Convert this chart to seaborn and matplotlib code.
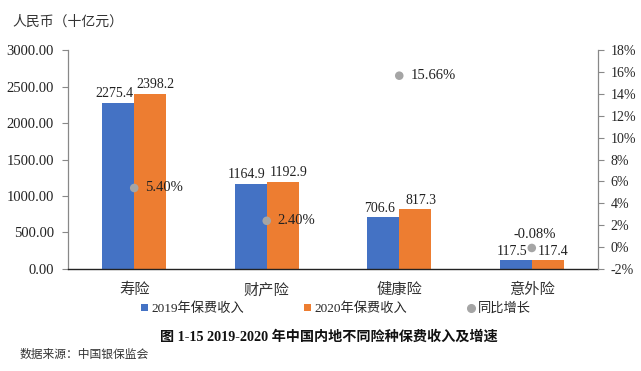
import matplotlib
matplotlib.use("Agg")
import matplotlib.pyplot as plt
import seaborn as sns
import pandas as pd
from matplotlib.lines import Line2D
from matplotlib.patches import Patch

categories = ["寿险", "财产险", "健康险", "意外险"]
premium_2019 = [2275.4, 1164.9, 706.6, 117.5]
premium_2020 = [2398.2, 1192.9, 817.3, 117.4]
growth = [5.40, 2.40, 15.66, -0.08]
series_names = ["2019年保费收入", "2020年保费收入", "同比增长"]

sns.set_theme(style="white")
plt.rcParams["font.family"] = ["Liberation Serif", "Noto Sans CJK SC"]

df = pd.DataFrame({
    "险种": categories * 2,
    "保费": premium_2019 + premium_2020,
    "年份": [series_names[0]] * 4 + [series_names[1]] * 4,
})

blue, orange, grey = "#4472C4", "#ED7D31", "#A5A5A5"

fig = plt.figure(figsize=(6.41, 3.71), dpi=100)
ax = fig.add_axes([0.106, 0.275, 0.827, 0.59])
sns.barplot(data=df, x="险种", y="保费", hue="年份", palette=[blue, orange],
            width=0.48, saturation=1, linewidth=0, ax=ax, legend=False)

ax.set_ylim(0, 3000)
ax.set_xlim(-0.5, 3.5)
ax.set_yticks([0, 500, 1000, 1500, 2000, 2500, 3000])
ax.set_yticklabels([f"{v:.2f}" for v in ax.get_yticks()], fontsize=10.5)
ax.set_xlabel("")
ax.set_ylabel("")
ax.tick_params(axis="x", length=0, pad=10, labelsize=11)
ax.tick_params(axis="y", length=4, width=0.8, color="#888888", direction="out", left=True, pad=6)
for lbl in ax.get_xticklabels():
    lbl.set_color("#333333")
for lbl in ax.get_yticklabels():
    lbl.set_color("#222222")

for side in ["top", "right"]:
    ax.spines[side].set_visible(False)
ax.spines["left"].set_color("#888888")
ax.spines["left"].set_linewidth(0.9)
ax.spines["bottom"].set_color("#222222")
ax.spines["bottom"].set_linewidth(1.0)

# value labels above bars, nudged apart a little like the original
for container, dx in zip(ax.containers, [-3, 4]):
    for bar in container:
        h = bar.get_height()
        ax.annotate(f"{h:.1f}", (bar.get_x() + bar.get_width() / 2, h),
                    xytext=(dx, 2), textcoords="offset points",
                    ha="center", va="bottom", fontsize=10, color="#222222")

ax2 = ax.twinx()
sns.scatterplot(x=range(len(categories)), y=growth, color=grey, s=38,
                edgecolor="none", ax=ax2, zorder=5)
ax2.set_ylim(-2, 18)
ax2.set_yticks(range(-2, 19, 2))
ax2.set_yticklabels([f"{v}%" for v in range(-2, 19, 2)], fontsize=10)
ax2.tick_params(axis="y", length=4, width=0.8, color="#888888", direction="out", right=True, pad=5)
for side in ["top", "left", "bottom"]:
    ax2.spines[side].set_visible(False)
ax2.spines["right"].set_color("#888888")
ax2.spines["right"].set_linewidth(0.9)

for i, g in enumerate(growth):
    if g < 0:
        ax2.annotate(f"{g:.2f}%", (i, g), xytext=(2, 5), textcoords="offset points",
                     ha="center", va="bottom", fontsize=10.5, color="#222222")
    else:
        ax2.annotate(f"{g:.2f}%", (i, g), xytext=(8, 0), textcoords="offset points",
                     ha="left", va="center", fontsize=10.5, color="#222222")

handles = [
    Patch(facecolor=blue, edgecolor="none"),
    Patch(facecolor=orange, edgecolor="none"),
    Line2D([], [], marker="o", linestyle="none", color=grey, markersize=5.5),
]
fig.legend(handles, series_names, loc="center", bbox_to_anchor=(0.524, 0.168),
           ncol=3, frameon=False, fontsize=9.5, handlelength=0.5, handleheight=0.5,
           handletextpad=0.25, columnspacing=4.6)

fig.text(0.02, 0.94, "人民币（十亿元）", fontsize=10, color="#333333", va="center")
fig.text(0.513, 0.092, "图 1-15 2019-2020 年中国内地不同险种保费收入及增速",
         fontsize=10.2, fontweight="bold", ha="center", va="center", color="#111111")
fig.text(0.03, 0.043, "数据来源：中国银保监会", fontsize=8.5, color="#333333", va="center")

fig.savefig("out.png", dpi=100)
